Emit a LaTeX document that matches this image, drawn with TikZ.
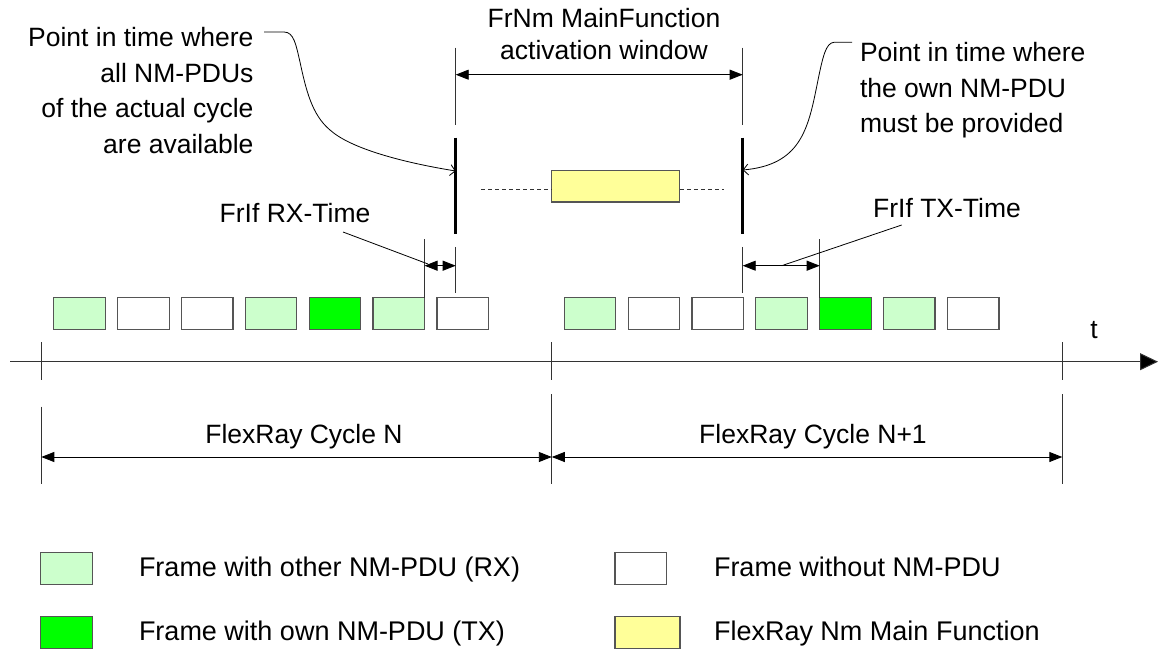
\documentclass[tikz,border=0pt]{standalone}
\usepackage{fontspec}
\setmainfont{Liberation Sans}
\usetikzlibrary{arrows.meta}
\definecolor{rxgreen}{HTML}{CCFFCC}
\definecolor{txgreen}{HTML}{00FF00}
\definecolor{mfyellow}{HTML}{FFFF99}
\definecolor{edgegray}{HTML}{555555}
\definecolor{linegray}{HTML}{333333}
\begin{document}
\begin{tikzpicture}[x=1pt,y=-1pt,
  txt/.style={font=\fontsize{26.5}{35.5}\selectfont, inner sep=0pt, outer sep=0pt},
  legtxt/.style={font=\fontsize{27}{32}\selectfont, inner sep=0pt, outer sep=0pt},
  frm/.style={draw=edgegray, line width=1.2pt, minimum width=51.5pt, minimum height=32pt, inner sep=0pt, outer sep=0pt},
  thinln/.style={draw=linegray, line width=0.9pt},
  thickln/.style={draw=black, line width=2.8pt},
  dimarrow/.style={draw=black, line width=0.9pt, {Triangle[length=13pt,width=10pt]}-{Triangle[length=13pt,width=10pt]}},
  callout/.style={draw=black, line width=0.8pt, -{Straight Barb[length=5pt,width=11pt]}},
]
\useasboundingbox (0,0) rectangle (1159,652);

% ---------- texts at top ----------
\node[txt, align=center, anchor=north, font=\fontsize{26.5}{32}\selectfont] (title) at (604,8.5) {FrNm MainFunction\\activation window};
\node[txt, align=right, anchor=north east] (lefttxt) at (253.5,27.6) {Point in time where\\all NM-PDUs\\of the actual cycle\\are available};
\node[txt, align=left, anchor=north west] (righttxt) at (860,42.6) {Point in time where\\the own NM-PDU\\must be provided};

% ---------- activation window ----------
\coordinate (wl1) at (455.7,47.7);  \coordinate (wl2) at (455.7,125);
\coordinate (wr1) at (742.7,47.7);  \coordinate (wr2) at (742.7,125);
\draw[thinln] (wl1) -- (wl2);
\draw[thinln] (wr1) -- (wr2);
\coordinate (wal) at (455.7,74.7); \coordinate (war) at (742.7,74.7);
\draw[dimarrow] (wal) -- (war);

% thick marks
\coordinate (tl1) at (455.7,137.7); \coordinate (tl2) at (455.7,234.3);
\coordinate (tr1) at (742.7,137.7); \coordinate (tr2) at (742.7,234.3);
\draw[thickln] (tl1) -- (tl2);
\draw[thickln] (tr1) -- (tr2);
\coordinate (tlp) at (455.7,171);
\coordinate (trp) at (742.7,170);

% main function box
\node[draw=edgegray, line width=1.2pt, fill=mfyellow, minimum width=127.6pt, minimum height=31.7pt, inner sep=0pt] (mf) at (615.5,186.2) {};
\coordinate (dl) at (481,189.3); \coordinate (dr) at (724.3,189.3);
\draw[linegray, line width=0.8pt, dash pattern=on 4pt off 3pt] (dl) -- (dl -| mf.west);
\draw[linegray, line width=0.8pt, dash pattern=on 4pt off 3pt] (dr -| mf.east) -- (dr);

% callouts
\coordinate (lc0) at (264,32);
\draw[callout] (lc0) -- (284,32) .. controls (294,32) and (296,45) .. (300,62)
   .. controls (306,90) and (312,115) .. (330,130)
   .. controls (350,148) and (400,162) .. (tlp);
\coordinate (rc0) at (852,42.3);
\draw[callout] (rc0) -- (834,42.3) .. controls (826,43) and (823,55) .. (817,85)
   .. controls (808,130) and (800,165) .. (trp);

% ---------- frames ----------
\foreach \i/\c in {1/rxgreen,2/white,3/white,4/rxgreen,5/txgreen,6/rxgreen,7/white}{
  \node[frm, fill=\c] (a\i) at ({79.55+63.85*(\i-1)},313.7) {};
  \node[frm, fill=\c] (b\i) at ({590.05+63.85*(\i-1)},313.7) {};
}

% ---------- RX time ----------
\node[txt, anchor=base] (rxlab) at (295,222.7) {FrIf RX-Time};
\coordinate (rxtop) at (a6.north east |- 0,239);
\draw[thinln] (a6.north east) -- (rxtop);
\coordinate (rxs1) at (455.7,247); \coordinate (rxs2) at (455.7,292.7);
\draw[thinln] (rxs1) -- (rxs2);
\coordinate (rxa) at (a6.north east |- 0,265.7);
\coordinate (rxb) at (455.7,265.7);
\draw[dimarrow] (rxa) -- (rxb);
\coordinate (rxl0) at (343,232); \coordinate (rxl1) at (428,264);
\draw[line width=0.8pt] (rxl0) -- (rxl1);

% ---------- TX time ----------
\node[txt, anchor=base] (txlab) at (947,217.5) {FrIf TX-Time};
\coordinate (txtop) at (b5.north west |- 0,239);
\draw[thinln] (b5.north west) -- (txtop);
\coordinate (txs1) at (742.7,247); \coordinate (txs2) at (742.7,292.7);
\draw[thinln] (txs1) -- (txs2);
\coordinate (txa) at (742.7,265.7);
\coordinate (txb) at (b5.north west |- 0,265.7);
\draw[dimarrow] (txa) -- (txb);
\coordinate (txl0) at (901.7,225); \coordinate (txl1) at (781.7,265.7);
\draw[line width=0.8pt] (txl0) -- (txl1);

% ---------- time axis ----------
\coordinate (ax0) at (10,361.7); \coordinate (ax1) at (1158,361.7);
\draw[linegray, line width=1pt, -{Triangle[length=18pt,width=17pt,fill=black]}] (ax0) -- (ax1);
\node[txt, anchor=base] (tlab) at (1094,338) {t};
\foreach \n/\x in {k0/41.3,k1/551.8,k2/1062.3}{
  \coordinate (\n a) at (\x,342); \coordinate (\n b) at (\x,380);
  \draw[thinln] (\n a) -- (\n b);
}

% ---------- cycle dimensions ----------
\coordinate (c0a) at (41.3,406.7); \coordinate (c0b) at (41.3,484);
\coordinate (c1a) at (551.8,394); \coordinate (c1b) at (551.8,484);
\coordinate (c2a) at (1062.3,394); \coordinate (c2b) at (1062.3,484);
\draw[thinln] (c0a) -- (c0b);
\draw[thinln] (c1a) -- (c1b);
\draw[thinln] (c2a) -- (c2b);
\coordinate (d0) at (41.3,457); \coordinate (d1) at (551.8,457); \coordinate (d2) at (1062.3,457);
\draw[dimarrow] (d0) -- (d1);
\draw[dimarrow] (d1) -- (d2);
\node[txt, anchor=base] (cyn) at (304,443) {FlexRay Cycle N};
\node[txt, anchor=base] (cyn1) at (813,443) {FlexRay Cycle N+1};

% ---------- legend ----------
\node[frm, fill=rxgreen, minimum width=51.7pt, minimum height=31.6pt] (l1) at (66.5,568.5) {};
\node[frm, fill=txgreen, minimum width=51.7pt, minimum height=31.6pt] (l2) at (66.5,632.5) {};
\node[frm, fill=white, minimum width=51.7pt, minimum height=31.6pt] (l3) at (640.9,568.5) {};
\node[frm, fill=mfyellow, minimum width=65pt, minimum height=31.6pt] (l4) at (647.5,632.5) {};
\node[legtxt, anchor=base west] (lt1) at (139,576.2) {Frame with other NM-PDU (RX)};
\node[legtxt, anchor=base west] (lt2) at (139,640.2) {Frame with own NM-PDU (TX)};
\node[legtxt, anchor=base west] (lt3) at (714,576.2) {Frame without NM-PDU};
\node[legtxt, anchor=base west] (lt4) at (714,640.2) {FlexRay Nm Main Function};
\end{tikzpicture}
\end{document}
